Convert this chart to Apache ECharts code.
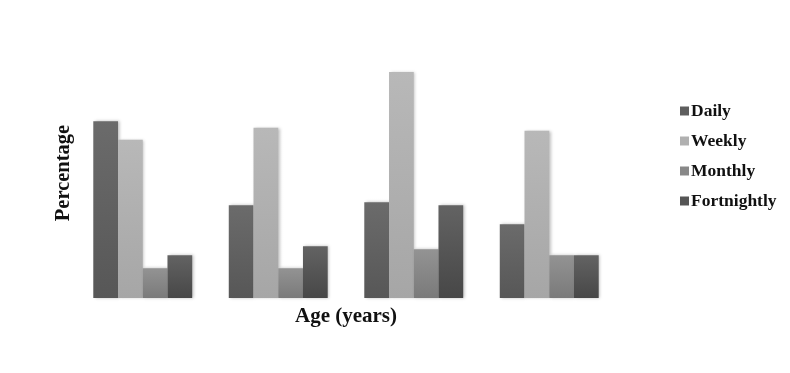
<!DOCTYPE html>
<html><head><meta charset="utf-8">
<script src="https://cdn.jsdelivr.net/npm/echarts@6/dist/echarts.min.js"></script>
<style>html,body{margin:0;padding:0;background:#fff}#c{width:790px;height:373px}</style>
</head><body><div id="c"></div>
<script>
const categories = ['G1', 'G2', 'G3', 'G4'];
const seriesNames = ['Daily', 'Weekly', 'Monthly', 'Fortnightly'];
const daily = [29.7, 15.6, 16.1, 12.4];
const weekly = [26.6, 28.6, 38.0, 28.1];
const monthly = [5.0, 5.0, 8.2, 7.2];
const fortnightly = [7.2, 8.7, 15.6, 7.2];
const values = [daily, weekly, monthly, fortnightly];
const xTitle = 'Age (years)';
const yTitle = 'Percentage';

const grads = [['#6b6b6b', '#575757'], ['#b8b8b8', '#a6a6a6'], ['#939393', '#7a7a7a'], ['#636363', '#474747']];
const legendColors = ['#5e5e5e', '#b0b0b0', '#888888', '#555555'];
const serif = '"Liberation Serif", "Times New Roman", serif';

const chart = echarts.init(document.getElementById('c'), null, {renderer: 'canvas'});
chart.setOption({
  animation: false,
  backgroundColor: '#ffffff',
  grid: {left: 75, right: 173, top: 60, bottom: 75},
  legend: {
    orient: 'vertical', left: 675, top: 97,
    itemWidth: 9, itemHeight: 9, itemGap: 12,
    icon: 'rect',
    textStyle: {fontFamily: serif, fontWeight: 'bold', fontSize: 17.5, color: '#111', padding: [0, 0, 0, -3]},
    data: seriesNames.map((n, i) => ({name: n, itemStyle: {color: legendColors[i]}}))
  },
  xAxis: {
    type: 'category', data: categories,
    axisLine: {show: false}, axisTick: {show: false}, axisLabel: {show: false},
    name: xTitle, nameLocation: 'middle', nameGap: 8,
    nameTextStyle: {fontFamily: serif, fontWeight: 'bold', fontSize: 21, color: '#111', verticalAlign: 'top'}
  },
  yAxis: {
    type: 'value', min: 0, max: 40,
    axisLine: {show: false}, axisTick: {show: false}, axisLabel: {show: false}, splitLine: {show: false},
    name: yTitle, nameLocation: 'middle', nameGap: 1, nameRotate: 90,
    nameTextStyle: {fontFamily: serif, fontWeight: 'bold', fontSize: 20.5, color: '#111', padding: [0, 0, 0, 12]}
  },
  series: seriesNames.map((n, i) => ({
    name: n, type: 'bar', data: values[i],
    barGap: '0%', barCategoryGap: '27%',
    itemStyle: {
      color: new echarts.graphic.LinearGradient(0, 0, 0, 1, [{offset: 0, color: grads[i][0]}, {offset: 1, color: grads[i][1]}]),
      shadowBlur: 3, shadowColor: 'rgba(0,0,0,0.25)', shadowOffsetX: 1.5, shadowOffsetY: 0
    }
  }))
});
</script></body></html>
